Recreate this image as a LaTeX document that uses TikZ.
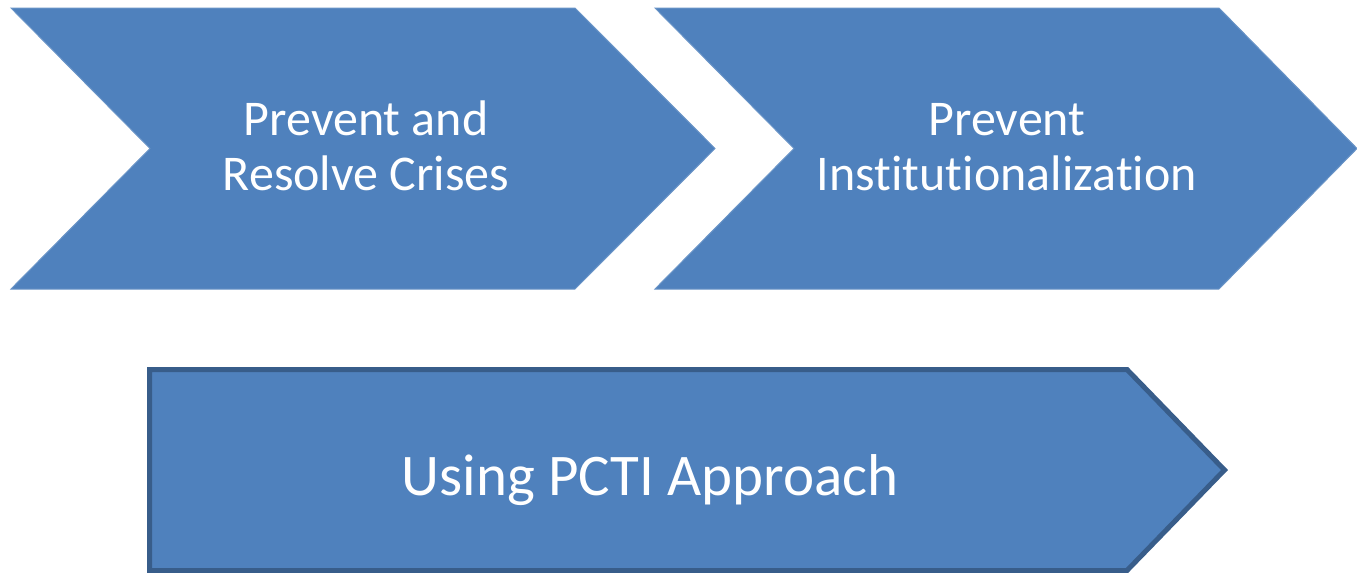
\documentclass[tikz,border=0pt]{standalone}
\usepackage{fontspec}
\setmainfont{Carlito}[Ligatures=NoCommon]
\usepackage{tikz}
\definecolor{stepblue}{HTML}{4F81BD}
\definecolor{stepedge}{HTML}{385D8A}

\begin{document}
\begin{tikzpicture}[x=0.5pt,y=-0.5pt,
    chevron/.style={fill=stepblue,draw=stepblue!85!white,line width=0.5pt},
    banner/.style={fill=stepblue,draw=stepedge,line width=2.5pt,line join=miter},
    steptext/.style={text=white,align=center,inner sep=0pt,font=\fontsize{25}{27.5}\selectfont},
    bannertext/.style={text=white,inner sep=0pt,font=\fontsize{29.5}{33}\selectfont}]
    \useasboundingbox (0,0) rectangle (1357,573);

    \fill[chevron] (11,8) -- (575,8) -- (715,148.5) -- (575,289) -- (11,289) -- (150,148.5) -- cycle;
    \fill[chevron] (655,8) -- (1219,8) -- (1357,148.5) -- (1219,289) -- (655,289) -- (794,148.5) -- cycle;
    \draw[banner] (149.5,369.5) -- (1127,369.5) -- (1224.5,470) -- (1127,570.5) -- (149.5,570.5) -- cycle;

    \node[steptext] (crises) at (366,146) {Prevent and\\Resolve Crises};
    \node[steptext] (institution) at (1007,147) {Prevent\\Institutionalization};
    \node[bannertext,anchor=base] (pcti) at (650,495) {Using PCTI Approach};
\end{tikzpicture}
\end{document}
